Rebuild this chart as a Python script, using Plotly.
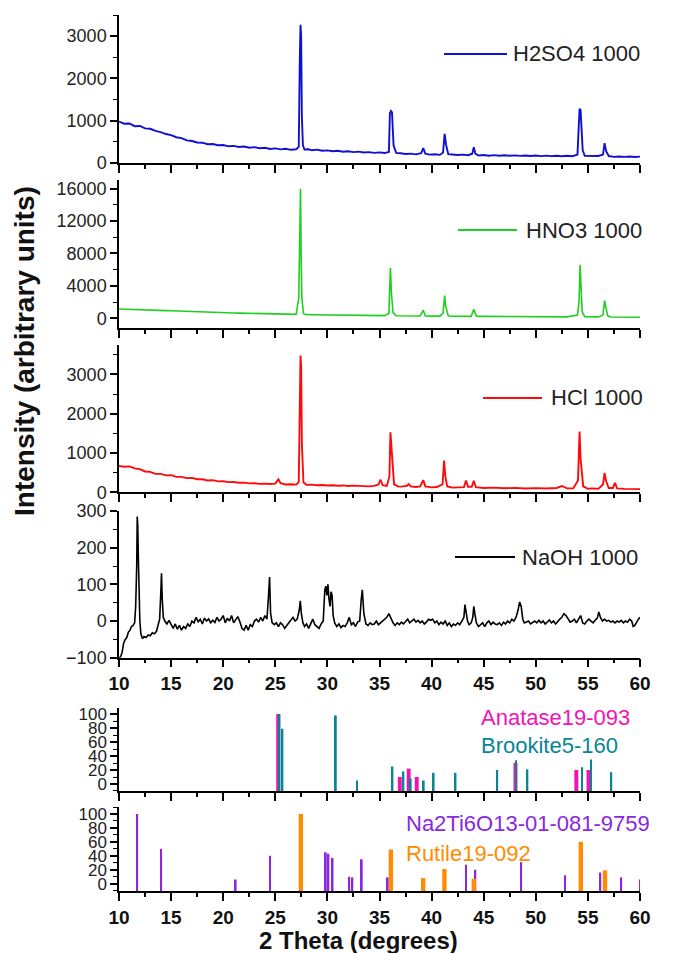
import plotly.graph_objects as go

# ---------------- data ----------------
h2so4_x = [10, 10.5, 11, 11.5, 12, 12.5, 13, 13.5, 14, 14.5, 15, 15.5, 16, 16.5, 17, 17.5, 18, 18.5, 19, 19.5,
           20, 20.5, 21, 21.5, 22, 22.5, 23, 23.5, 24, 24.5, 25, 25.5, 26, 26.5, 27, 27.25, 27.35, 27.42, 27.48,
           27.55, 27.65, 27.8, 28.2, 28.5, 29, 29.5, 30, 30.5, 31, 31.5, 32, 32.5, 33, 33.5, 34, 34.5, 35, 35.5,
           35.9, 36.0, 36.1, 36.2, 36.35, 36.6, 37, 37.5, 38, 38.5, 39.0, 39.2, 39.4, 39.8, 40.3, 40.8, 41.1,
           41.25, 41.4, 41.6, 42, 42.5, 43, 43.5, 43.9, 44.05, 44.2, 44.5, 45, 45.5, 46, 46.5, 47, 47.5, 48, 48.5,
           49, 49.5, 50, 50.5, 51, 51.5, 52, 52.5, 53, 53.5, 54.0, 54.2, 54.3, 54.4, 54.5, 54.7, 55, 55.5, 56,
           56.45, 56.6, 56.75, 57, 57.5, 58, 58.5, 59, 59.5, 60]
h2so4_y = [980, 930, 935, 870, 875, 820, 810, 760, 730, 685, 660, 610, 590, 535, 520, 485, 480, 445, 450, 420,
           425, 395, 405, 380, 390, 362, 375, 348, 360, 332, 345, 322, 335, 312, 325, 380, 2450, 3270, 3000,
           1100, 420, 320, 325, 300, 315, 290, 298, 278, 288, 268, 278, 258, 268, 248, 258, 240, 252, 235,
           260, 1180, 1230, 1200, 420, 240, 230, 212, 222, 205, 230, 350, 220, 198, 208, 192, 250,
           690, 420, 210, 200, 188, 197, 183, 220, 370, 220, 178, 188, 172, 185, 172, 182, 170, 180, 168,
           178, 165, 176, 163, 174, 162, 172, 160, 172, 160, 200, 1280, 1250, 760, 300, 170, 168, 156, 165,
           200, 470, 280, 165, 145, 155, 145, 155, 143, 150]

hno3_x = [10, 10.5, 11, 11.5, 12, 12.5, 13, 13.5, 14, 14.5, 15, 15.5, 16, 16.5, 17, 17.5, 18, 18.5, 19, 19.5,
          20, 20.5, 21, 21.5, 22, 22.5, 23, 23.5, 24, 24.5, 25, 25.5, 26, 26.5, 27, 27.25, 27.35, 27.42, 27.48,
          27.55, 27.7, 28, 28.5, 29, 29.5, 30, 31, 32, 33, 34, 35, 35.5, 35.9, 36.05, 36.15, 36.3, 36.6, 37, 38,
          38.9, 39.2, 39.4, 40, 40.8, 41.1, 41.25, 41.35, 41.6, 42, 43, 43.8, 44.05, 44.3, 45, 46, 47, 48, 49,
          50, 51, 52, 53, 54.0, 54.15, 54.25, 54.35, 54.45, 54.7, 55, 56, 56.45, 56.6, 56.7, 56.9, 57.2, 58, 59,
          60]
hno3_y = [1140, 1130, 1120, 1090, 1080, 1060, 1030, 1000, 980, 950, 930, 900, 880, 850, 830, 800, 780, 760,
          740, 720, 700, 680, 660, 640, 620, 600, 580, 560, 550, 530, 520, 510, 500, 490, 490, 2500, 11000,
          16000, 7600, 2500, 600, 450, 440, 430, 420, 410, 400, 390, 380, 360, 340, 330, 600, 6200, 3000, 700,
          320, 300, 290, 280, 1000, 300, 270, 260, 600, 2800, 1500, 300, 250, 240, 240, 1100, 250, 230, 220,
          210, 200, 200, 190, 185, 180, 175, 400, 2100, 6600, 3600, 800, 200, 180, 170, 400, 2200, 1500, 300,
          160, 150, 140, 120]

hcl_x = [10, 10.5, 11, 11.5, 12, 12.5, 13, 13.5, 14, 14.5, 15, 15.5, 16, 16.5, 17, 17.5, 18, 18.5, 19, 19.5,
         20, 20.5, 21, 21.5, 22, 22.5, 23, 23.5, 24, 24.5, 25, 25.3, 25.5, 26, 26.5, 27, 27.25, 27.35, 27.42,
         27.48, 27.55, 27.7, 28, 28.5, 29, 29.5, 30, 30.5, 31, 31.5, 32, 32.5, 33, 33.5, 34, 34.5, 34.9, 35.1,
         35.3, 35.7, 35.95, 36.05, 36.15, 36.25, 36.4, 36.8, 37.2, 37.6, 37.8, 38.0, 38.5, 38.9, 39.2, 39.4, 40,
         40.5, 41.05, 41.2, 41.32, 41.5, 42, 42.5, 43.1, 43.3, 43.5, 43.85, 44.05, 44.25, 45, 46, 47, 48, 49,
         50, 51, 52, 52.5, 53, 53.6, 54.05, 54.2, 54.3, 54.4, 54.55, 55, 55.5, 56, 56.45, 56.6, 56.75, 57.0,
         57.4, 57.6, 57.8, 58.5, 59, 59.5, 60]
hcl_y = [670, 650, 660, 610, 590, 530, 520, 470, 470, 430, 435, 392, 392, 362, 368, 332, 332, 302, 308, 278,
         282, 258, 262, 244, 246, 228, 232, 215, 220, 210, 222, 330, 230, 200, 206, 196, 260, 1700, 3480,
         3200, 1250, 250, 190, 195, 180, 185, 172, 180, 166, 175, 162, 170, 158, 165, 152, 163, 200, 320,
         180, 160, 400, 1530, 950, 750, 200, 145, 150, 160, 210, 150, 135, 150, 310, 150, 125,
         135, 200, 810, 400, 150, 120, 128, 130, 300, 140, 140, 290, 130, 110, 118, 105, 112, 98,
         106, 95, 110, 160, 100, 100, 300, 1550, 840, 600, 150, 90, 100, 88, 200, 490, 280, 110,
         110, 240, 100, 86, 90, 78, 82]

naoh_x = [10.0, 10.15, 10.3, 10.45, 10.6, 10.75, 10.9, 11.05, 11.2, 11.35, 11.5, 11.6, 11.7, 11.75, 11.8, 11.85,
          11.92, 12.0, 12.1, 12.25, 12.4, 12.6, 12.8, 13.0, 13.2, 13.4, 13.6, 13.75, 13.9, 14.0, 14.08, 14.15,
          14.25, 14.4, 14.6, 14.8, 15.0, 15.2, 15.4, 15.6, 15.8, 16.0, 16.2, 16.4, 16.6, 16.8, 17.0, 17.2, 17.4,
          17.6, 17.8, 18.0, 18.2, 18.4, 18.6, 18.8, 19.0, 19.2, 19.4, 19.6, 19.8, 20.0, 20.2, 20.4, 20.6, 20.8,
          21.0, 21.2, 21.4, 21.6, 21.8, 22.0, 22.2, 22.4, 22.6, 22.8, 23.0, 23.2, 23.4, 23.6, 23.8, 24.0, 24.2,
          24.35, 24.45, 24.55, 24.7, 24.9, 25.1, 25.3, 25.5, 25.7, 25.9, 26.1, 26.3, 26.5, 26.7, 26.9, 27.1,
          27.3, 27.4, 27.5, 27.65, 27.8, 28.0, 28.2, 28.4, 28.6, 28.8, 29.0, 29.2, 29.4, 29.6, 29.75, 29.85,
          29.95, 30.05, 30.15, 30.25, 30.35, 30.45, 30.55, 30.7, 30.9, 31.1, 31.3, 31.5, 31.7, 31.9, 32.1,
          32.3, 32.5, 32.7, 32.9, 33.1, 33.25, 33.35, 33.5, 33.7, 33.9, 34.1, 34.3, 34.5, 34.7, 34.9, 35.1,
          35.3, 35.5, 35.7, 35.9, 36.1, 36.3, 36.5, 36.7, 36.9, 37.1, 37.3, 37.5, 37.7, 37.9, 38.1, 38.3,
          38.5, 38.7, 38.9, 39.1, 39.3, 39.5, 39.7, 39.9, 40.1, 40.3, 40.5, 40.7, 40.9, 41.1, 41.3, 41.5,
          41.7, 41.9, 42.1, 42.3, 42.5, 42.7, 42.9, 43.1, 43.2, 43.3, 43.45, 43.6, 43.8, 43.95, 44.05, 44.15,
          44.3, 44.5, 44.7, 44.9, 45.1, 45.3, 45.5, 45.7, 45.9, 46.1, 46.3, 46.5, 46.7, 46.9, 47.1, 47.3,
          47.5, 47.7, 47.9, 48.1, 48.3, 48.45, 48.6, 48.75, 48.9, 49.1, 49.3, 49.5, 49.7, 49.9, 50.1, 50.3,
          50.5, 50.7, 50.9, 51.1, 51.3, 51.5, 51.7, 51.9, 52.1, 52.3, 52.5, 52.7, 52.9, 53.1, 53.3, 53.5,
          53.7, 53.9, 54.1, 54.3, 54.5, 54.7, 54.9, 55.1, 55.3, 55.5, 55.7, 55.9, 56.05, 56.2, 56.4, 56.6,
          56.8, 57.0, 57.2, 57.4, 57.6, 57.8, 58.0, 58.2, 58.4, 58.6, 58.8, 59.0, 59.2, 59.35, 59.5, 59.7,
          59.85, 60.0]
naoh_y = [-100, -98, -85, -60, -50, -45, -30, -25, -15, -12, -5, 40, 150, 285, 260, 180,
          40, 0, -35, -48, -42, -45, -38, -40, -32, -35, -28, -10, 5, 70, 130, 60,
          10, 0, -8, 2, -10, -20, -8, -22, -12, -25, -15, -20, -8, -15, 0, -5, 10,
          -2, 5, -8, 8, 0, 6, -5, 2, -4, 10, 0, 5, 15, -5, 8, 0, 15,
          -5, 5, 12, -2, -20, -25, -12, -25, -10, -15, 0, 5, -3, 10, 0, 15, 5,
          70, 120, 20, -5, -10, -5, -15, -5, -10, -20, -12, -5, 5, 10, 0, 5,
          30, 55, 20, -5, -15, -8, -20, -5, 5, -10, -15, -20, -8, 0, 85, 95,
          70, 100, 60, 40, 80, 70, 15, -5, -15, -8, -18, -12, -15, -5, 10,
          -10, -5, -15, -3, 0, 60, 85, 20, -8, -12, -5, -10, -8, 0, -10, -5,
          0, 5, 10, 20, 8, -5, -12, -5, -10, -3, -8, 0, 5, -5, 0, 5,
          -3, 2, -5, 0, -8, -3, 5, 2, 5, -5, 0, -10, -3, -8, 0, -12,
          -5, -15, -8, -12, -5, -10, 0, 10, 45, 30, 0, -10, -5, 10, 40, 20,
          -5, -15, -10, -5, -15, -5, 0, -10, -3, -8, -10, -5, -12, -3, -8, 0,
          -5, 5, 0, 10, 30, 52, 40, 5, -5, -3, 0, -8, -3, 0, -5, 2,
          -5, 0, -8, -2, 3, -5, 0, -8, 0, 5, 10, 20, 15, 5, -3, 0,
          5, -5, 5, 15, -5, -8, 0, 5, 0, -5, 2, 8, 25, 10, 0, 5,
          0, 2, -3, 0, -5, 0, -3, 2, -5, 0, -3, 5, 0, -15, -12, 0,
          5, 10]

# reference patterns (2theta, relative intensity)
anatase_x = [25.28, 36.95, 37.80, 38.57, 48.05, 53.89, 55.06]
anatase_y = [100, 10, 22, 10, 30, 20, 20]
brookite_x = [25.40, 25.69, 30.81, 32.85, 36.25, 37.30, 38.00, 39.25, 40.20, 42.30, 46.30, 48.10, 49.20,
              54.45, 55.30, 57.25]
brookite_y = [100, 79, 98, 5, 25, 18, 8, 5, 16, 16, 20, 34, 21, 24, 35, 17]
na2ti6o13_x = [11.75, 14.05, 21.2, 24.5, 29.85, 30.1, 30.5, 32.1, 32.4, 33.3, 35.8, 43.3, 44.2, 48.6,
               52.8, 56.2, 58.2, 60.0]
na2ti6o13_y = [100, 50, 6, 40, 45, 43, 37, 10, 9, 35, 9, 27, 20, 31, 12, 16, 9, 6]
rutile_x = [27.45, 36.09, 39.19, 41.23, 44.05, 54.32, 56.64]
rutile_y = [100, 49, 8, 21, 7, 60, 19]

x_ticks = [10, 15, 20, 25, 30, 35, 40, 45, 50, 55, 60]
bar_ticks = [0, 20, 40, 60, 80, 100]

# ---------------- styling ----------------
FONT = "Liberation Sans"
BLUE, GREEN, RED, BLACK = "#1010d2", "#1fcf1f", "#ff0a0a", "#000000"
MAGENTA, TEAL, PURPLE, ORANGE = "#f014b4", "#0a8595", "#8a28e0", "#ff8c00"

domains = [
    [0.83105, 1.0],
    [0.64269, 0.81164],
    [0.45514, 0.62329],
    [0.26632, 0.43379],
    [0.11416, 0.20890],
    [0.0, 0.09589],
]
yranges = [[0, 3500], [-1200, 17070], [0, 3750], [-100, 300], [-10, 108.6], [-10.5, 110]]
ydticks = [1000, 4000, 1000, 100, 20, 20]
yminor = [500, 2000, 500, 50, 10, 10]

fig = go.Figure()

series = [
    (h2so4_x, h2so4_y, BLUE, 1, 1.9),
    (hno3_x, hno3_y, GREEN, 2, 1.6),
    (hcl_x, hcl_y, RED, 3, 1.9),
    (naoh_x, naoh_y, BLACK, 4, 1.6),
]
for xs, ys, col, i, lw in series:
    fig.add_trace(go.Scatter(x=xs, y=ys, mode="lines", line=dict(color=col, width=lw),
                             xaxis=f"x{i}", yaxis=f"y{i}", showlegend=False))

BASE5 = yranges[4][0]
BASE6 = yranges[5][0]
fig.add_trace(go.Bar(x=anatase_x, y=[v - BASE5 for v in anatase_y], base=BASE5, width=0.38,
                     marker=dict(color=MAGENTA, line=dict(width=0)), xaxis="x5", yaxis="y5", showlegend=False))
fig.add_trace(go.Bar(x=brookite_x, y=[v - BASE5 for v in brookite_y], base=BASE5, width=0.17,
                     marker=dict(color=TEAL, line=dict(width=0)), xaxis="x5", yaxis="y5", showlegend=False))
fig.add_trace(go.Bar(x=na2ti6o13_x, y=[v - BASE6 for v in na2ti6o13_y], base=BASE6, width=0.17,
                     marker=dict(color=PURPLE, line=dict(width=0)), xaxis="x6", yaxis="y6", showlegend=False))
fig.add_trace(go.Bar(x=rutile_x, y=[v - BASE6 for v in rutile_y], base=BASE6, width=0.42,
                     marker=dict(color=ORANGE, line=dict(width=0)), xaxis="x6", yaxis="y6", showlegend=False))

# The page body adds an 8 px offset, so the figure is 8 px smaller and margins shifted accordingly.
layout = dict(
    width=665, height=945,
    margin=dict(l=111, r=33, t=7, b=62, autoexpand=False),
    paper_bgcolor="white", plot_bgcolor="white",
    barmode="overlay",
    font=dict(family=FONT, color="#222222"),
)
for i in range(1, 7):
    show_lbl = i in (4, 6)
    layout[f"xaxis{i}" if i > 1 else "xaxis"] = dict(
        domain=[0, 1], anchor=f"y{i}", range=[10, 60],
        showline=True, linecolor="black", linewidth=1.5,
        ticks="outside", ticklen=8, tickwidth=1.5, tickcolor="black",
        tickvals=x_ticks, showticklabels=show_lbl,
        tickfont=dict(family=FONT, size=19, color="#111111", weight="bold"),
        minor=dict(ticks="outside", ticklen=4, tickwidth=1.5, tickcolor="black", dtick=2.5, tick0=10,
                   showgrid=False),
        showgrid=False, zeroline=False, automargin=False,
    )
    yax = dict(
        domain=domains[i - 1], anchor=f"x{i}", range=yranges[i - 1],
        showline=True, linecolor="black", linewidth=1.5,
        ticks="outside", ticklen=7, tickwidth=1.5, tickcolor="black",
        tickfont=dict(family=FONT, size=18, color="#222222"),
        tickformat="d",
        minor=dict(ticks="outside", ticklen=4, tickwidth=1.2, tickcolor="black", dtick=yminor[i - 1],
                   showgrid=False),
        showgrid=False, zeroline=False, automargin=False,
    )
    if i >= 5:
        yax["tickvals"] = bar_ticks
        yax["tickfont"]["size"] = 17
        yax["minor"]["tick0"] = 0
    else:
        yax["dtick"] = ydticks[i - 1]
        yax["tick0"] = 0
        yax["minor"]["tick0"] = 0
    layout[f"yaxis{i}" if i > 1 else "yaxis"] = yax

fig.update_layout(**layout)

W = 521.0
H = 876.0
def px(xp):
    # xp is a page pixel x (plot area starts at page x = 119)
    return (xp - 119) / W
def py(yp):
    # yp is a page pixel y (plot area starts at page y = 15)
    return 1 - (yp - 15) / H

# legend-like labels for the four patterns
legends = [
    ("H2SO4 1000", BLUE, 444, 507, 511, 54),
    ("HNO3 1000", GREEN, 458, 517, 524, 230),
    ("HCl 1000", RED, 483, 542, 549, 398),
    ("NaOH 1000", BLACK, 455, 515, 520, 557),
]
for txt, col, x0, x1, xt, yy in legends:
    fig.add_shape(type="line", xref="paper", yref="paper", x0=px(x0), x1=px(x1), y0=py(yy), y1=py(yy),
                  line=dict(color=col, width=1.8))
    fig.add_annotation(text=txt, xref="paper", yref="paper", x=px(xt), y=py(yy), xanchor="left",
                       yanchor="middle", showarrow=False, font=dict(family=FONT, size=22, color="#222222"))

refs = [
    ("Anatase19-093", MAGENTA, 479, 717.7),
    ("Brookite5-160", TEAL, 479, 745),
    ("Na2Ti6O13-01-081-9759", PURPLE, 404, 823.3),
    ("Rutile19-092", ORANGE, 404, 853.3),
]
for txt, col, xt, yy in refs:
    fig.add_annotation(text=txt, xref="paper", yref="paper", x=px(xt), y=py(yy), xanchor="left",
                       yanchor="middle", showarrow=False, font=dict(family=FONT, size=22, color=col))

fig.add_annotation(text="<b>Intensity (arbitrary units)</b>", xref="paper", yref="paper",
                   x=px(24), y=py(351), xanchor="center", yanchor="middle", textangle=-90,
                   showarrow=False, font=dict(family=FONT, size=28, color="#111111"))
fig.add_annotation(text="<b>2 Theta (degrees)</b>", xref="paper", yref="paper",
                   x=px(358), y=py(940), xanchor="center", yanchor="middle",
                   showarrow=False, font=dict(family=FONT, size=24, color="#111111"))

fig.write_html("out.html")
